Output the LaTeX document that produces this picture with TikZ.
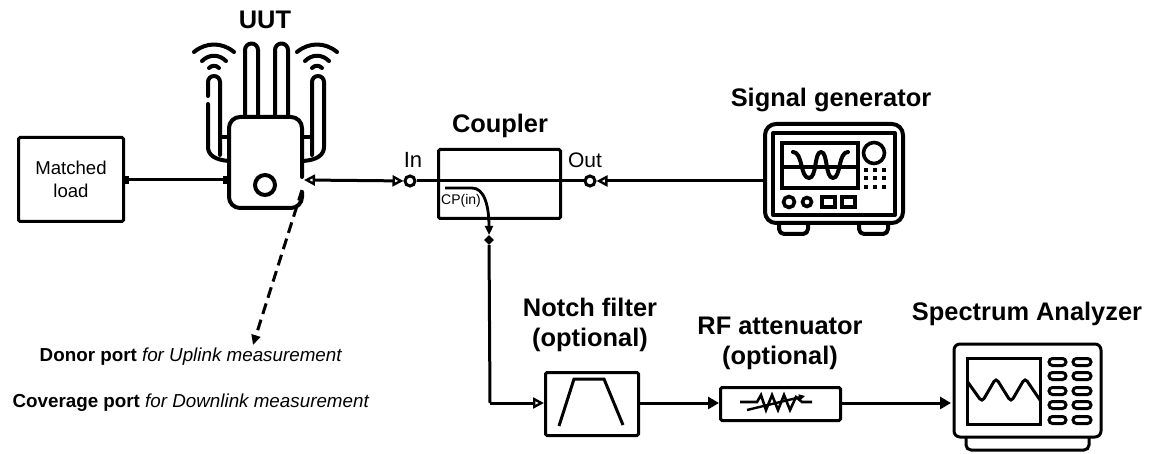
\documentclass[tikz,border=0pt]{standalone}
\usepackage{fontspec}
\setmainfont{Liberation Sans}
\usetikzlibrary{arrows.meta, shapes.geometric}

\tikzset{
  thick line/.style = {line width=3pt, line join=round},
  icon line/.style = {line width=4pt, line join=round, line cap=round},
  box/.style = {draw, line width=3pt, rounded corners=1.5pt, inner sep=0pt, anchor=north west},
  port/.style = {draw, circle, line width=3pt, fill=white, minimum size=10pt, inner sep=0pt},
  title/.style = {font=\bfseries\fontsize{25.4}{30}\selectfont, align=center},
  opentip/.tip = {Triangle[open, length=11pt, width=11pt, line width=2.4pt]},
  solidtip/.tip = {Triangle[length=11pt, width=12pt]},
  stubtip/.tip = {Square[length=4pt, width=8pt]}
}

\begin{document}
\begin{tikzpicture}[x=1pt, y=-1pt]
\useasboundingbox (0,0) rectangle (1154,454);

% titles
\node[title] (uuttitle) at (265,20) {UUT};
\node[title] (couplertitle) at (500,126) {Coupler};
\node[title] (gentitle) at (831,100) {Signal generator};
\node[title] (notchtitle) at (590,325) {Notch filter\\(optional)};
\node[title] (atttitle) at (780,343) {RF attenuator\\(optional)};
\node[title] (spectitle) at (1027,314) {Spectrum Analyzer};

% boxes
\node[box, minimum width=105pt, minimum height=84pt, align=center, font=\fontsize{18.6}{23}\selectfont] (load) at (17,136) {Matched\\load};
\node[box, minimum width=122pt, minimum height=69pt] (coupler) at (437,148) {};
\node[box, minimum width=93pt, minimum height=63pt] (notch) at (544,371) {};
\node[box, minimum width=120pt, minimum height=33pt] (att) at (719,386) {};

% UUT
\draw[icon line, rounded corners=11pt] (302,177) -- (302,117) -- (229,117) -- (229,208) -- (302,208) -- (302,192);
\coordinate (uutleft) at (227,180);
\coordinate (uutright) at (304,180);
\coordinate (uutport) at (302,190);
\node[draw, circle, line width=4pt, minimum size=20pt, inner sep=0pt] (uutled) at (265,185) {};
\foreach \x in {245,275} {
  \draw[icon line] (\x,116) -- (\x,50) arc (180:360:6.5) -- (\x+13,116);
}
\draw[icon line] (208,104) -- (208,147) .. controls (208,155) and (215,160) .. (229,161);
\draw[icon line] (208,96) -- (208,82) arc (180:360:6) -- (220,155);
\draw[icon line] (220,137) -- (229,137);
\draw[icon line] (324,82) -- (324,147) .. controls (324,155) and (317,160) .. (303,161);
\draw[icon line] (312,155) -- (312,82) arc (180:360:6);
\draw[icon line] (312,137) -- (303,137);
\foreach \x in {214,317} {
  \draw[icon line] (\x-20,52) .. controls (\x-8,42) and (\x+8,42) .. (\x+20,52);
  \draw[icon line] (\x-12,61) .. controls (\x-5,54) and (\x+5,54) .. (\x+12,61);
  \draw[icon line] (\x-5,68) .. controls (\x-2,65) and (\x+2,65) .. (\x+5,68);
}

% signal generator
\draw[icon line, rounded corners=11pt] (765,124) rectangle (903,223);
\coordinate (genleft) at (765,181);
\draw[icon line] (773,133) rectangle (895,215);
\draw[line width=3.2pt] (782,143) rectangle (858,188);
\draw[line width=3.2pt] (782,167) -- (858,167);
\draw[icon line] (793,152) .. controls (803,152) and (800,178) .. (809,178) .. controls (817,178) and (814,152) .. (821,152) .. controls (828,152) and (825,178) .. (833,178) .. controls (841,178) and (838,152) .. (848,152);
\node[draw, circle, line width=3.6pt, minimum size=21pt, inner sep=0pt] (genknob) at (874,153) {};
\foreach \x in {866,875,884} \foreach \y in {170,178,187} {
  \fill (\x-2,\y-2) rectangle (\x+2,\y+2);
}
\node[draw, circle, line width=3.6pt, minimum size=11pt, inner sep=0pt] (gena) at (789,202) {};
\node[draw, circle, line width=3.6pt, minimum size=9pt, inner sep=0pt] (genb) at (807,202) {};
\draw[line width=3.4pt] (822,197) rectangle (835,207);
\draw[line width=3.4pt] (842,197) rectangle (855,207);
\draw[icon line, rounded corners=5pt] (779,224) -- (779,234) -- (808,234) -- (808,224);
\draw[icon line, rounded corners=5pt] (859,224) -- (859,234) -- (888,234) -- (888,224);

% spectrum analyzer
\draw[line width=3pt, rounded corners=6pt] (954,344) rectangle (1101,437);
\coordinate (specleft) at (951,403);
\draw[line width=3pt] (967,358) rectangle (1040,424);
\draw[line width=3pt, rounded corners=4pt] (967,381) -- (982,402) -- (996,378) -- (1011,402) -- (1025,378) -- (1040,400);
\foreach \y in {362,376,391,405,420} {
  \draw[line width=3pt, rounded corners=3.5pt] (1049,\y-3.5) rectangle (1066,\y+3.5);
  \draw[line width=3pt, rounded corners=3.5pt] (1073,\y-3.5) rectangle (1091,\y+3.5);
}
\draw[line width=3pt, rounded corners=5pt] (966,437) -- (966,450) -- (1089,450) -- (1089,437);

% filter and attenuator
\draw[line width=3pt] (559,426) -- (574,379) -- (604,379) -- (623,425);
\draw[line width=2.6pt] (740,402) -- (757,402) -- (761,395) -- (766,410) -- (772,395) -- (778,410) -- (784,395) -- (790,410) -- (796,397) -- (802,402) -- (812,402);
\draw[line width=2.4pt, -{Triangle[length=6pt, width=6pt]}] (747,410) -- (805,396);

% ports
\node[port] (in) at (410,181) {};
\node[port] (out) at (590,181) {};
\node[font=\fontsize{22}{24}\selectfont] (inlabel) at (413,160) {In};
\node[font=\fontsize{21}{24}\selectfont] (outlabel) at (585,160) {Out};
\node[font=\fontsize{14}{16}\selectfont] (cplabel) at (461,201) {CP(in)};
\node[diamond, fill, minimum size=10pt, inner sep=0pt] (cpport) at (489,240) {};
\coordinate (cpstart) at (445,188);
\coordinate (cpend) at (489,235);
\coordinate (corner) at (490,403);

% connectors
\draw[thick line, stubtip-stubtip] (load.east |- uutleft) -- (uutleft);
\draw[thick line, opentip-opentip] (uutright) -- (in);
\draw[thick line] (in) -- (out);
\draw[thick line, opentip-] (out) -- (genleft);
\draw[line width=2.8pt, -{Triangle[length=9pt, width=8pt]}] (cpstart) -- (472,188) .. controls (484,188) and (489,205) .. (cpend);
\draw[thick line] (cpport) -- (corner);
\draw[thick line, -opentip] (corner) -- (notch.west |- corner);
\draw[thick line, -solidtip] (notch.east |- corner) -- (att.west |- corner);
\draw[thick line, -solidtip] (att.east |- corner) -- (specleft);
\coordinate (dashend) at (253,345);
\draw[line width=3pt, dash pattern=on 11pt off 6pt, -{Triangle[length=10pt, width=9pt]}] (uutport) -- (dashend);

% notes
\node[font=\fontsize{18.8}{22}\selectfont] (donor) at (191,357) {\textbf{Donor port} \textit{for Uplink measurement}};
\node[font=\fontsize{18.8}{22}\selectfont] (coverage) at (191,403) {\textbf{Coverage port} \textit{for Downlink measurement}};
\end{tikzpicture}
\end{document}
